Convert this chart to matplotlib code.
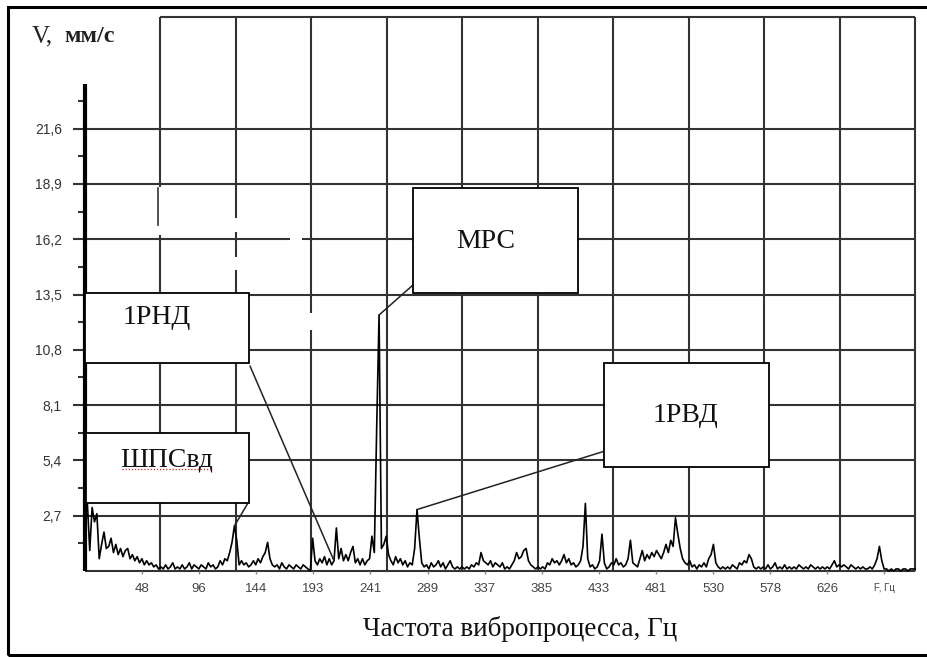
import matplotlib as mpl
mpl.use('Agg')
import matplotlib.pyplot as plt
import numpy as np
from matplotlib.patches import Rectangle
from matplotlib.lines import Line2D

W, H = 927, 657

# spectrum, 2 Hz step, 0..700 Hz
freq_step = 2
amplitude = [
    1.8, 3.3, 1.0, 3.1, 2.4, 2.8, 0.6, 1.3, 1.9, 1.1,
    1.2, 1.6, 0.9, 1.3, 0.8, 1.1, 0.7, 1.0, 1.1, 0.6,
    0.8, 0.5, 0.7, 0.4, 0.6, 0.3, 0.5, 0.3, 0.4, 0.2,
    0.3, 0.1, 0.2, 0.1, 0.3, 0.1, 0.2, 0.4, 0.1, 0.2,
    0.1, 0.3, 0.1, 0.2, 0.4, 0.1, 0.3, 0.2, 0.1, 0.3,
    0.2, 0.1, 0.4, 0.2, 0.3, 0.1, 0.2, 0.5, 0.3, 0.6,
    0.5, 0.9, 1.4, 2.2, 1.5, 0.3, 0.5, 0.3, 0.4, 0.2,
    0.3, 0.5, 0.3, 0.6, 0.4, 0.7, 0.9, 1.4, 0.6, 0.3,
    0.2, 0.3, 0.1, 0.4, 0.2, 0.1, 0.3, 0.2, 0.1, 0.3,
    0.2, 0.1, 0.3, 0.2, 0.1, 0.0, 1.6, 0.5, 0.3, 0.6,
    0.4, 0.7, 0.3, 0.6, 0.3, 0.5, 2.1, 0.6, 1.1, 0.5,
    0.8, 0.5, 0.9, 1.2, 0.4, 0.6, 0.3, 0.6, 0.3, 0.5,
    0.6, 1.7, 0.9, 7.0, 12.5, 1.1, 1.3, 1.7, 0.8, 0.5,
    0.3, 0.7, 0.4, 0.6, 0.3, 0.5, 0.2, 0.4, 0.3, 1.1,
    3.0, 1.6, 0.4, 0.2, 0.3, 0.1, 0.4, 0.2, 0.3, 0.5,
    0.2, 0.4, 0.1, 0.3, 0.5, 0.2, 0.1, 0.2, 0.1, 0.2,
    0.1, 0.2, 0.1, 0.3, 0.2, 0.4, 0.3, 0.9, 0.5, 0.4,
    0.3, 0.5, 0.2, 0.4, 0.3, 0.2, 0.4, 0.1, 0.2, 0.1,
    0.3, 0.5, 0.9, 0.6, 0.7, 1.0, 1.1, 0.5, 0.3, 0.2,
    0.1, 0.2, 0.1, 0.2, 0.1, 0.4, 0.3, 0.6, 0.4, 0.5,
    0.3, 0.5, 0.8, 0.4, 0.6, 0.3, 0.4, 0.2, 0.3, 0.5,
    1.2, 3.3, 0.6, 0.2, 0.3, 0.1, 0.2, 0.5, 1.8, 0.4,
    0.1, 0.2, 0.4, 0.3, 0.6, 0.3, 0.4, 0.2, 0.3, 0.6,
    1.5, 0.4, 0.3, 0.2, 0.6, 1.0, 0.5, 0.8, 0.6, 0.9,
    0.7, 1.0, 0.8, 0.6, 0.9, 1.3, 0.9, 1.5, 1.2, 2.6,
    1.8, 1.1, 0.6, 0.4, 0.3, 0.5, 0.2, 0.3, 0.1, 0.3,
    0.2, 0.4, 0.2, 0.6, 0.8, 1.3, 0.4, 0.2, 0.1, 0.2,
    0.1, 0.2, 0.1, 0.3, 0.2, 0.1, 0.4, 0.3, 0.5, 0.4,
    0.8, 0.6, 0.2, 0.1, 0.2, 0.1, 0.2, 0.1, 0.3, 0.1,
    0.2, 0.4, 0.1, 0.2, 0.1, 0.3, 0.1, 0.2, 0.1, 0.2,
    0.1, 0.3, 0.2, 0.1, 0.2, 0.1, 0.3, 0.2, 0.1, 0.2,
    0.1, 0.2, 0.1, 0.2, 0.1, 0.3, 0.5, 0.2, 0.3, 0.2,
    0.3, 0.2, 0.1, 0.3, 0.2, 0.1, 0.2, 0.1, 0.2, 0.1,
    0.1, 0.2, 0.1, 0.3, 0.6, 1.2, 0.5, 0.1, 0.1, 0.0,
    0.1, 0.0, 0.1, 0.1, 0.0, 0.1, 0.1, 0.0, 0.1, 0.1, 0.1,
]
freq = np.arange(len(amplitude)) * freq_step

x_max = 700
y_max = 27.05
y_ticks = [2.7, 5.4, 8.1, 10.8, 13.5, 16.2, 18.9, 21.6]
y_tick_labels = ['2,7', '5,4', '8,1', '10,8', '13,5', '16,2', '18,9', '21,6']
x_ticks = [48.15, 96.3, 144.45, 192.6, 240.75, 288.9, 337.05, 385.2,
           433.35, 481.5, 529.65, 577.8, 625.95, 674.1]
x_tick_labels = ['48', '96', '144', '193', '241', '289', '337', '385',
                 '433', '481', '530', '578', '626', 'F, Гц']

# callouts: label, peak freq, box (l, t, r, b) px, text anchor px, leader start px
callouts = [
    ('ШПСвд', 126, (86, 433, 249, 503), (167, 466), (248, 503)),
    ('1РНД', 210, (85, 293, 249, 363), (157, 324), (250, 366)),
    ('МРС', 248, (413, 188, 578, 293), (486, 248), (413, 285)),
    ('1РВД', 280, (604, 363, 769, 467), (685, 422), (605, 451)),
]

grid_c = '#333333'
serif = ['Liberation Serif', 'DejaVu Serif']
sans = ['Liberation Sans', 'DejaVu Sans']


def fp(px, py):
    return px / W, 1 - py / H


fig = plt.figure(figsize=(W / 100, H / 100), dpi=100)
ax = fig.add_axes([85 / W, 1 - 571 / H, 830 / W, 554 / H])
ax.set_xlim(0, x_max)
ax.set_ylim(0, y_max)
for s in ax.spines.values():
    s.set_visible(False)

# grid
grid_x = np.linspace(0, x_max, 12)[1:]
ax.vlines(grid_x, 0, y_max, color=grid_c, lw=1.5, zorder=1, clip_on=False)
ax.hlines([0] + y_ticks, 0, x_max, color=grid_c, lw=1.5, zorder=1,
          clip_on=False)
ax.hlines(y_max, grid_x[0], x_max, color=grid_c, lw=1.5, zorder=1,
          clip_on=False)
ax.plot([0, 0], [0, 23.8], color='black', lw=3, solid_capstyle='butt',
        zorder=3, clip_on=False)

ax.set_yticks(y_ticks, y_tick_labels)
ax.set_yticks([v - 1.35 for v in y_ticks] + [22.95], minor=True)
ax.tick_params(axis='y', which='major', length=8.6, width=1.5,
               color=grid_c, pad=8, labelsize=10, labelcolor='#333333')
ax.tick_params(axis='y', which='minor', length=5, width=1.5, color=grid_c)
for lab in ax.get_yticklabels():
    lab.set_family(sans)

ax.set_xticks(x_ticks, x_tick_labels)
ax.tick_params(axis='x', length=2.5, width=1, color='#888888', pad=6,
               labelsize=9.5, labelcolor='#444444')
for lab in ax.get_xticklabels():
    lab.set_family(sans)
ax.get_xticklabels()[-1].set_fontsize(7)

ax.plot(freq, amplitude, color='black', lw=1.2, zorder=2, clip_on=False)

# erased pieces of the grid in the original scan
for l, t, w, h in [(158, 187, 76, 48), (233, 218, 6, 14), (233, 257, 6, 13),
                   (290, 237, 12, 6), (308, 313, 6, 17)]:
    x0, y0 = fp(l, t + h)
    fig.add_artist(Rectangle((x0, y0), w / W, h / H, transform=fig.transFigure,
                             facecolor='white', edgecolor='none', zorder=5))
fig.add_artist(Line2D(*zip(fp(157.5, 188), fp(157.5, 225)), color=grid_c,
                      lw=1.2, transform=fig.transFigure, zorder=6))

# callout boxes
for label, pf, box, tpos, lpos in callouts:
    l, t, r, b = box
    x0, y0 = fp(l, b)
    fig.add_artist(Rectangle((x0, y0), (r - l) / W, (b - t) / H,
                             transform=fig.transFigure, facecolor='white',
                             edgecolor='black', lw=1.3, zorder=8))
    fig.text(*fp(*tpos), label, ha='center', va='baseline', fontsize=20,
             family=serif, color='#111111', zorder=9)
    i = int(np.argmin(np.abs(freq - pf)))
    ax.annotate('', xy=(freq[i], amplitude[i]), xycoords='data',
                xytext=(lpos[0], H - lpos[1]), textcoords='figure pixels',
                arrowprops=dict(arrowstyle='-', color='#222222', lw=1.1,
                                shrinkA=0, shrinkB=0), zorder=7)

# spell-check squiggle under the first label
fig.add_artist(Line2D(*zip(fp(122, 469), fp(212, 469)), color='#dd2222',
                      lw=0.9, ls=(0, (1, 1.5)), transform=fig.transFigure,
                      zorder=10))

fig.text(*fp(32, 42), 'V,', fontsize=18, family=serif, va='baseline',
         color='#222222')
fig.text(*fp(64, 42), 'мм/с', fontsize=17.5, family=serif, va='baseline',
         fontweight='bold', color='#222222')
fig.text(*fp(520, 636), 'Частота вибропроцесса, Гц', fontsize=19.5,
         family=serif, ha='center', va='baseline', color='#111111')

# outer frame
x0, y0 = fp(8, 655)
fig.add_artist(Rectangle((x0, y0), 940 / W, 648 / H, transform=fig.transFigure,
                         facecolor='none', edgecolor='black', lw=2.2,
                         zorder=20))

fig.savefig('out.png', dpi=100)
